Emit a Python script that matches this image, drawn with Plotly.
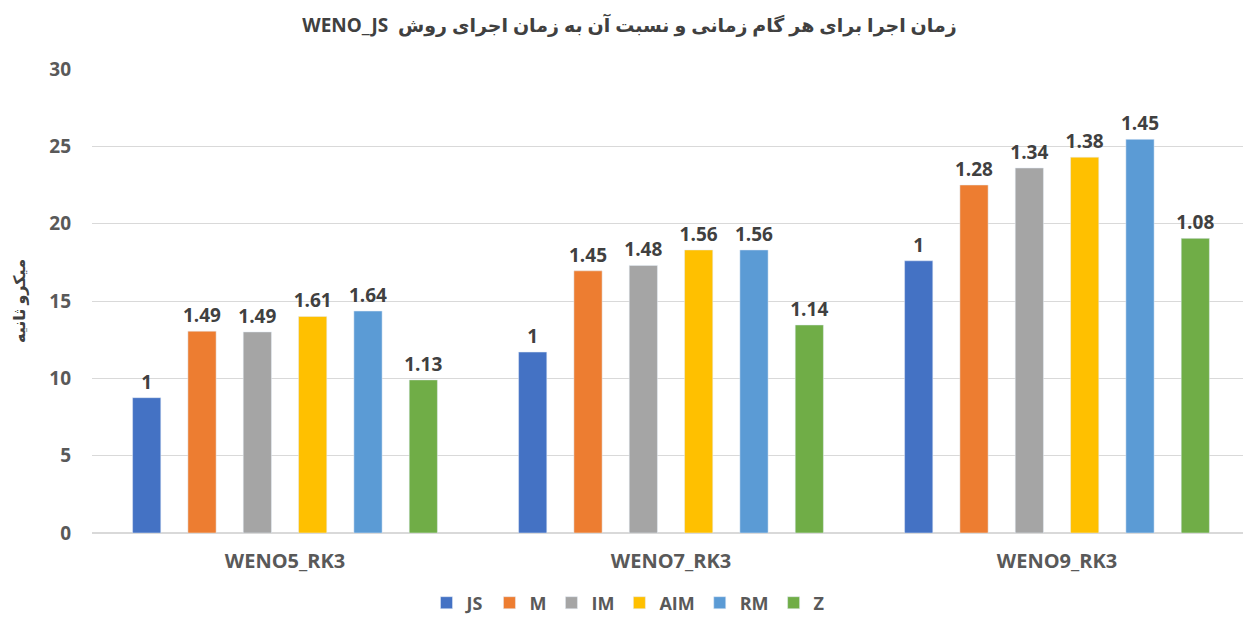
import plotly.graph_objects as go

categories = ["WENO5_RK3", "WENO7_RK3", "WENO9_RK3"]
series_names = ["JS", "M", "IM", "AIM", "RM", "Z"]
colors = ["#4472C4", "#ED7D31", "#A5A5A5", "#FFC000", "#5B9BD5", "#70AD47"]

js = [8.75, 11.7, 17.6]
m = [13.05, 16.95, 22.5]
im = [13.0, 17.3, 23.6]
aim = [14.0, 18.3, 24.3]
rm = [14.35, 18.3, 25.45]
z = [9.9, 13.45, 19.05]
values = [js, m, im, aim, rm, z]

js_lbl = ["1", "1", "1"]
m_lbl = ["1.49", "1.45", "1.28"]
im_lbl = ["1.49", "1.48", "1.34"]
aim_lbl = ["1.61", "1.56", "1.38"]
rm_lbl = ["1.64", "1.56", "1.45"]
z_lbl = ["1.13", "1.14", "1.08"]
labels = [js_lbl, m_lbl, im_lbl, aim_lbl, rm_lbl, z_lbl]

W, H = 1243, 609  # page body has an 8px default margin

FONT = "Open Sans, Liberation Sans, sans-serif"

fig = go.Figure()
for name, vals, lbl, col in zip(series_names, values, labels, colors):
    fig.add_trace(go.Bar(
        x=categories, y=vals, name=name, marker_color=col,
        text=lbl, textposition="outside", cliponaxis=False, constraintext="none",
        textfont=dict(family=FONT, size=19, color="#404040", weight="bold"),
    ))

fig.update_layout(
    width=W, height=H,
    paper_bgcolor="white", plot_bgcolor="white",
    barmode="group", bargap=0.14, bargroupgap=0.49,
    margin=dict(l=84, r=1, t=61, b=84, autoexpand=False),
    title=dict(text="<b>WENO_JS  زمان اجرا برای هر گام زمانی و نسبت آن به زمان اجرای روش</b>",
               x=0.5, xanchor="center", y=1 - 17 / H, yanchor="middle", yref="container",
               font=dict(family="Noto Sans, DejaVu Sans, sans-serif", size=19, color="#404040")),
    yaxis=dict(range=[0, 30], dtick=5, showgrid=True, gridcolor="#D9D9D9", gridwidth=1,
               zeroline=True, zerolinecolor="#D9D9D9", showline=False,
               tickfont=dict(family=FONT, size=19, color="#595959", weight="bold"),
               ticks="", ticklabelstandoff=20,
               title=dict(text="<b>میکرو ثانیه</b>", standoff=24,
                          font=dict(family="Noto Sans, DejaVu Sans, sans-serif", size=16, color="#404040"))),
    xaxis=dict(showline=False, ticks="", ticklabelstandoff=14,
               tickfont=dict(family=FONT, size=20, color="#595959", weight="bold")),
    legend=dict(orientation="h", x=(628 - 8) / W, xanchor="center", xref="container",
                y=(H - 595) / H, yanchor="middle", yref="container",
                font=dict(family=FONT, size=18, color="#595959", weight="bold"),
                itemwidth=30, tracegroupgap=0),
)

fig.write_html("out.html")
